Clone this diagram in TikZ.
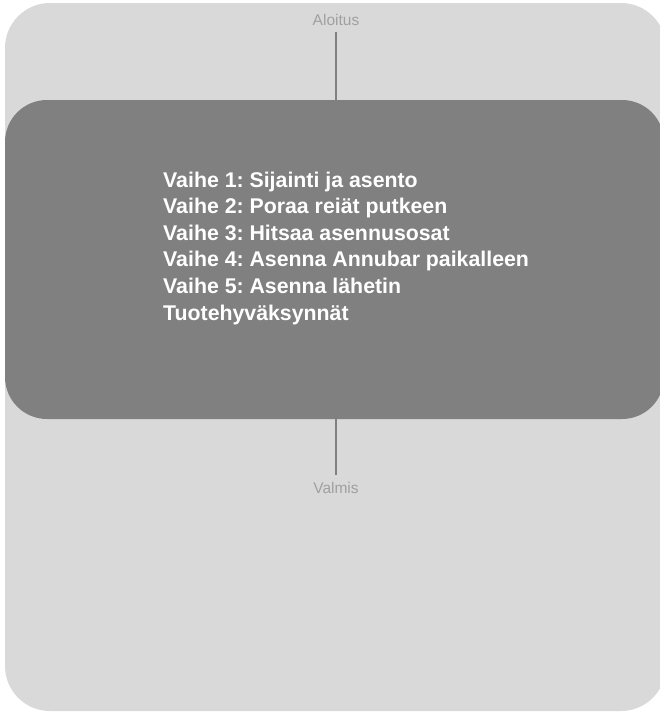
\documentclass[tikz,border=0pt]{standalone}
\usepackage{fontspec}
\setmainfont{Liberation Sans}
\usepackage{tikz}
\usetikzlibrary{calc}
\definecolor{panel}{RGB}{217, 217, 217}
\definecolor{stepbox}{RGB}{128, 128, 128}
\definecolor{endlabel}{RGB}{160, 160, 160}
\frenchspacing

\begin{document}
\begin{tikzpicture}[x=1pt, y=-1pt,
  endpoint/.style={font=\fontsize{15.5}{18}\selectfont, text=endlabel, inner sep=7pt},
  steptext/.style={font=\fontsize{21.3}{25}\selectfont\bfseries, text=white, anchor=base west, inner sep=0pt},
  link/.style={draw=stepbox, line width=2pt}]
  \useasboundingbox (0,0) rectangle (660,712);
  % Panel
  \fill[panel, rounded corners=45pt] (5,3) rectangle (666,711);
  
  % Steps box
  \node[fill=stepbox, rounded corners=42pt, minimum width=659pt, minimum height=319pt, inner sep=0pt] (steps) at (334.5,259.5) {};
  \foreach \txt [count=\i] in {Vaihe 1: Sijainti ja asento, Vaihe 2: Poraa reiät putkeen, Vaihe 3: Hitsaa asennusosat, Vaihe 4: Asenna Annubar paikalleen, Vaihe 5: Asenna lähetin, Tuotehyväksynnät}
    \node[steptext] (step\i) at (163, 160.4+26.6*\i) {\txt};
  
  % Start and end
  \node[endpoint, anchor=base] (start) at (336,25) {Aloitus};
  \node[endpoint, anchor=base] (finish) at (336,493) {Valmis};
  \draw[link] (start.south) -- (start.south |- steps.north);
  \draw[link] (finish.north |- steps.south) -- (finish.north);
\end{tikzpicture}
\end{document}
